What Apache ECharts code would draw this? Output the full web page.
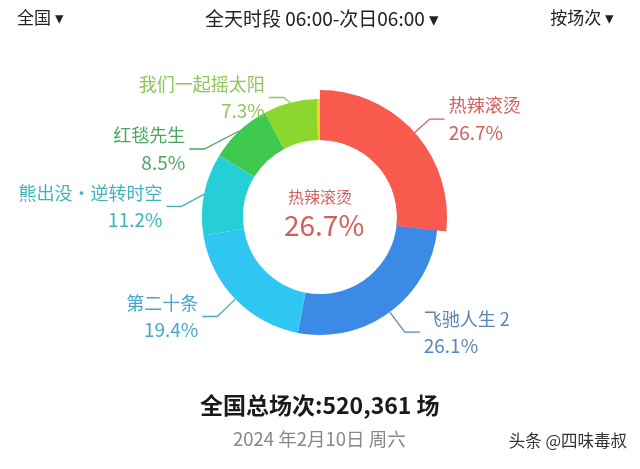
<!DOCTYPE html>
<html><head><meta charset="utf-8">
<script src="https://cdn.jsdelivr.net/npm/echarts@6/dist/echarts.min.js"></script>
<style>html,body{margin:0;padding:0;background:#fff}#c{width:640px;height:469px}</style>
</head><body><div id="c"></div>
<script>
const names = ['热辣滚烫', '飞驰人生 2', '第二十条', '熊出没·逆转时空', '红毯先生', '我们一起摇太阳', '其他'];
const shares = [26.7, 26.1, 19.4, 11.2, 8.5, 7.3, 0.4];
const sliceColors = ['#f85a4e', '#3b8ae6', '#30c6f3', '#26cfd6', '#3ec94e', '#8bd72d', '#f3d12a'];
const labelColors = ['#d2605d', '#5a86b6', '#46a8c8', '#3fb4bd', '#4ca663', '#8fc55b', '#c8b040'];
const topLabels = ['全国 ▾', '全天时段 06:00-次日06:00 ▾', '按场次 ▾'];
const totalText = '全国总场次:520,361 场';
const dateText = '2024 年2月10日 周六';
const watermark = '头条 @四味毒叔';
const highlightIndex = 0;

const font = '"Noto Sans CJK SC", "Noto Sans", sans-serif';
const chart = echarts.init(document.getElementById('c'), null, {renderer: 'canvas'});

function labelCfg(i) {
  return {
    show: true,
    formatter: p => '{n|' + p.name + '}\n{v|' + shares[p.dataIndex].toFixed(1) + '%}',
    rich: {
      n: {fontSize: 18, color: labelColors[i], fontFamily: font, lineHeight: 27},
      v: {fontSize: 19, color: labelColors[i], fontFamily: font, lineHeight: 27}
    }
  };
}

const lastIdx = names.length - 1;
const baseData = names.map((n, i) => ({
  name: n, value: shares[i],
  itemStyle: {color: sliceColors[i]},
  label: (i === highlightIndex || i === lastIdx) ? {show: false} : labelCfg(i),
  labelLine: {show: !(i === highlightIndex || i === lastIdx), lineStyle: {color: labelColors[i], width: 1.3}}
}));
const hiData = names.map((n, i) => ({
  name: n, value: shares[i],
  itemStyle: {color: i === highlightIndex ? sliceColors[i] : 'rgba(0,0,0,0)'},
  label: i === highlightIndex ? labelCfg(i) : {show: false},
  labelLine: {show: i === highlightIndex, lineStyle: {color: labelColors[i], width: 1.3}}
}));

chart.setOption({
  animation: false,
  backgroundColor: '#fff',
  graphic: [
    {type: 'text', left: 17, top: 9, style: {text: topLabels[0], fontSize: 17, fill: '#222', fontFamily: font}},
    {type: 'text', left: 205, top: 9, style: {text: topLabels[1], fontSize: 19, fill: '#222', fontFamily: font}},
    {type: 'text', right: 26, top: 9, style: {text: topLabels[2], fontSize: 17, fill: '#222', fontFamily: font}},
    {type: 'text', left: 'center', top: 189, style: {text: names[highlightIndex], fontSize: 16, fill: labelColors[highlightIndex], fontFamily: font}},
    {type: 'text', left: 284, top: 211, style: {text: shares[highlightIndex].toFixed(1) + '%', fontSize: 28, fill: labelColors[highlightIndex], fontFamily: font}},
    {type: 'text', left: 200, top: 394, style: {text: totalText, fontSize: 23, fontWeight: 'bold', fill: '#1a1a1a', fontFamily: font}},
    {type: 'text', left: 233, top: 430, style: {text: dateText, fontSize: 18.5, fill: '#888', fontFamily: font}},
    {type: 'text', right: 13, top: 432, style: {text: watermark, fontSize: 16.5, fill: '#333', fontFamily: font}}
  ],
  series: [
    {
      type: 'pie', silent: true, left: 0, right: 0, top: 72, height: 300,
      center: ['50%', 145], radius: [77, 118],
      startAngle: 90, clockwise: true, avoidLabelOverlap: true,
      label: {position: 'outside', distanceToLabelLine: 4, minMargin: 6},
      labelLine: {length: 25, length2: 15, smooth: false},
      data: baseData
    },
    {
      type: 'pie', silent: true, left: 0, right: 0, top: 72, height: 300,
      center: ['50%', 145], radius: [77, 127],
      startAngle: 90, clockwise: true, avoidLabelOverlap: false,
      label: {position: 'outside', distanceToLabelLine: 4},
      labelLine: {length: 20, length2: 15, smooth: false},
      data: hiData
    }
  ]
});
</script></body></html>
